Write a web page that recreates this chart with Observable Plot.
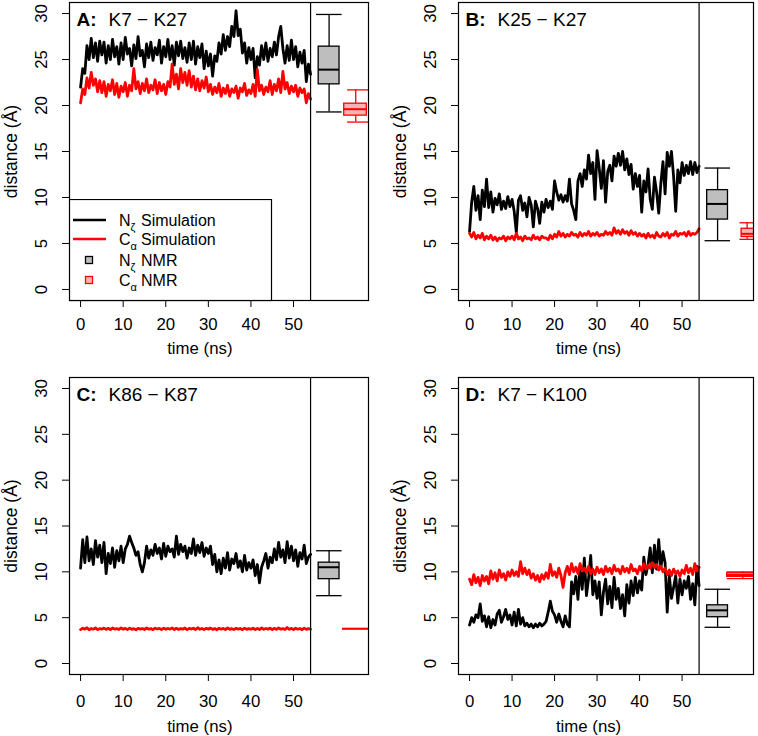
<!DOCTYPE html>
<html><head><meta charset="utf-8">
<script src="https://cdn.jsdelivr.net/npm/d3@7"></script>
<script src="https://cdn.jsdelivr.net/npm/@observablehq/plot@0.6"></script>
<style>
body{margin:0;background:#fff;}
#fig{position:relative;width:758px;height:736px;font-family:"Liberation Sans",Arial,sans-serif;}
.panel{position:absolute;width:379px;height:368px;}
</style></head><body><div id="fig"></div>
<script>
// ---------- data ----------
const time = d3.range(0, 54.25, 0.5);          // ns, sampling grid of the traces
const simEnd = 54;                              // end of simulation (separator)
const xTicks = [0, 10, 20, 30, 40, 50];
const yTicks = [0, 5, 10, 15, 20, 25, 30];
const panelLetters = ["A:", "B:", "C:", "D:"];
const panelTitles = ["K7 \u2212 K27", "K25 \u2212 K27", "K86 \u2212 K87", "K7 \u2212 K100"];
const seriesNames = ["N\u03b6 Simulation", "C\u03b1 Simulation", "N\u03b6 NMR", "C\u03b1 NMR"];

// A: K7 - K27
const nzA = [22.0,24.0,23.5,26.5,25.0,27.3,25.2,26.8,24.8,27.0,
  25.5,26.9,24.6,26.5,25.0,27.2,25.3,26.4,24.5,26.8,
  25.0,27.4,25.6,26.2,24.3,26.6,25.1,27.5,25.4,26.0,
  24.2,26.7,25.2,26.9,24.9,26.3,25.5,27.1,24.6,26.4,
  25.3,27.2,25.0,26.5,24.4,26.9,25.4,27.0,25.1,26.3,
  24.7,26.8,25.0,27.0,24.5,26.4,25.2,26.7,24.0,25.9,
  24.3,25.6,23.2,25.4,24.8,26.8,25.6,27.7,26.0,27.5,
  26.4,28.6,27.5,30.3,27.6,28.3,25.7,26.8,24.6,26.3,
  25.0,26.2,23.0,25.3,24.4,26.5,25.0,26.8,24.8,26.2,
  25.3,26.9,25.5,27.5,28.6,26.2,24.6,26.5,24.9,27.1,
  25.0,26.4,24.2,25.8,24.6,26.0,22.6,24.5,23.4];
const caA = [20.3,21.8,21.2,23.0,21.9,23.6,22.2,22.9,21.5,22.7,
  21.4,22.6,21.0,22.3,21.6,22.8,21.2,22.4,20.9,22.1,
  21.5,22.5,21.0,22.2,21.6,24.0,21.8,22.6,21.3,22.4,
  21.6,22.9,21.4,22.2,21.7,22.8,21.3,22.5,21.6,22.3,
  21.2,22.6,22.0,24.5,22.3,23.4,21.8,24.0,22.5,23.6,
  22.2,23.8,22.0,23.2,21.7,22.9,21.6,22.7,21.9,23.1,
  21.5,22.3,21.2,22.0,21.4,22.4,21.0,21.9,21.3,22.2,
  21.0,21.8,21.4,22.1,20.8,21.9,21.5,22.4,21.1,21.7,
  21.3,22.3,21.0,23.9,21.6,22.2,21.2,22.0,21.5,22.7,
  21.2,22.3,21.6,22.9,21.4,23.7,21.8,22.5,21.3,22.1,
  21.5,22.2,21.0,21.9,21.4,21.8,20.3,21.3,20.7];
// B: K25 - K27
const nzB = [6.3,9.5,11.2,8.6,10.2,7.6,10.8,9.0,12.0,8.9,
  10.6,8.4,9.9,9.2,10.4,8.7,9.6,8.8,10.1,9.0,
  9.8,8.5,6.2,9.7,10.2,8.6,9.4,7.9,10.0,9.2,
  6.8,9.6,8.8,7.2,9.5,8.4,9.8,8.9,9.6,8.7,
  11.8,10.6,9.7,10.3,9.5,10.2,9.6,12.0,9.3,8.6,
  7.6,11.8,12.6,11.2,13.0,12.0,14.6,12.6,13.8,9.8,
  15.1,13.2,11.0,14.0,9.5,12.8,13.5,11.8,14.5,13.4,
  14.8,13.5,15.0,13.0,14.2,12.5,13.6,10.9,12.6,11.2,
  12.4,8.4,11.8,10.6,13.1,9.8,8.7,12.2,10.6,8.3,
  11.5,13.9,10.4,14.9,13.4,15.0,12.3,8.5,13.0,11.6,
  13.8,12.4,13.5,12.6,13.9,12.5,13.8,12.7,13.4];
const caB = [6.1,5.7,6.2,5.5,5.9,5.6,6.1,5.4,5.8,5.5,
  5.9,5.4,5.7,5.3,5.6,5.5,5.8,5.3,5.7,5.5,
  5.8,5.4,6.1,5.5,5.7,5.3,5.8,5.5,5.6,5.4,
  5.9,5.5,5.7,5.4,5.8,5.6,5.6,5.4,5.9,5.5,
  6.0,5.7,6.3,5.8,6.1,5.7,6.0,5.8,6.2,5.9,
  6.0,5.7,6.2,5.8,6.1,5.9,6.3,5.8,6.1,5.9,
  6.2,5.8,6.0,5.9,6.3,6.0,6.2,5.9,6.7,6.1,
  6.4,6.0,6.5,6.1,6.3,5.9,6.4,6.0,6.2,5.8,
  6.1,5.8,6.0,5.6,6.1,5.7,5.9,5.6,6.2,5.8,
  5.7,6.1,5.8,6.2,5.6,6.0,5.9,6.3,5.8,6.1,
  6.0,6.2,5.8,6.3,5.9,6.1,6.0,6.2,6.6];
// C: K86 - K87
const nzC = [10.4,13.5,11.0,13.8,11.2,12.5,10.8,13.4,11.6,12.9,
  11.0,13.2,9.8,12.0,10.9,12.6,10.5,12.3,11.2,12.8,
  11.0,12.5,13.0,13.9,13.2,12.6,11.8,12.2,10.8,10.0,
  11.0,12.8,11.5,12.4,11.8,13.0,12.0,12.6,11.4,13.1,
  11.7,12.8,12.2,12.5,11.6,13.9,11.9,13.0,12.2,12.8,
  11.5,12.6,12.0,13.6,11.8,12.9,12.1,13.2,11.7,12.6,
  12.0,12.8,10.8,11.9,10.0,11.3,9.8,11.5,10.4,12.1,
  10.2,11.4,10.9,12.0,10.5,11.2,10.0,11.8,10.2,11.0,
  10.4,11.3,9.6,10.8,8.8,10.5,11.2,12.0,10.4,11.6,
  11.0,12.5,11.3,13.2,11.6,12.4,11.0,13.3,11.5,12.8,
  11.2,12.4,10.6,12.1,11.4,12.9,10.9,11.6,11.9];
const caC = [3.70,3.85,3.75,3.90,3.68,3.82,3.74,3.88,3.70,3.80,
  3.76,3.86,3.72,3.84,3.69,3.87,3.75,3.81,3.71,3.89,
  3.74,3.83,3.70,3.86,3.73,3.80,3.68,3.84,3.75,3.82,
  3.71,3.87,3.74,3.81,3.69,3.85,3.76,3.83,3.70,3.86,
  3.73,3.82,3.75,3.88,3.70,3.84,3.72,3.80,3.74,3.87,
  3.69,3.83,3.76,3.85,3.71,3.90,3.73,3.82,3.70,3.84,
  3.75,3.86,3.72,3.81,3.68,3.85,3.74,3.83,3.71,3.87,
  3.73,3.80,3.70,3.84,3.75,3.82,3.69,3.86,3.72,3.81,
  3.74,3.85,3.71,3.83,3.70,3.88,3.73,3.82,3.75,3.86,
  3.69,3.84,3.72,3.87,3.74,3.81,3.70,3.92,3.73,3.83,
  3.71,3.85,3.74,3.82,3.69,3.86,3.72,3.80,3.75];
// D: K7 - K100
const nzD = [4.2,5.0,4.5,5.3,5.0,6.5,4.6,5.2,4.0,5.1,
  3.9,4.8,4.2,5.4,5.8,4.5,5.1,5.9,4.8,5.3,
  4.2,5.6,4.1,5.9,4.3,5.0,4.1,4.4,4.0,4.3,
  3.9,4.3,4.0,4.4,4.1,4.3,4.6,5.6,6.8,5.7,
  5.3,4.5,5.4,4.6,4.0,5.2,4.3,4.0,8.9,7.6,
  9.5,7.0,10.6,8.1,11.5,7.4,9.3,11.8,7.5,9.0,
  7.1,8.9,5.3,7.8,9.2,6.5,8.4,6.1,9.4,7.0,
  8.2,6.0,7.5,5.2,8.6,6.6,9.0,7.4,9.4,7.7,
  9.0,8.0,11.6,9.7,10.8,12.6,9.9,12.9,10.3,13.5,
  10.4,12.2,11.0,5.6,9.6,7.1,8.3,9.6,6.6,9.2,
  7.5,9.0,8.2,9.5,7.0,8.7,6.4,10.6,8.5];
const caD = [9.2,8.6,9.7,8.8,9.4,8.5,9.6,9.0,9.5,8.7,
  10.1,9.2,9.9,9.0,10.2,9.4,9.8,9.1,10.0,9.5,
  10.2,9.6,10.0,9.5,11.1,9.8,10.4,9.7,10.2,9.3,
  9.8,9.1,9.6,8.9,9.7,9.2,9.9,9.3,10.8,9.6,
  10.0,9.4,10.4,9.6,8.3,9.9,10.6,9.7,10.9,10.0,
  10.5,9.8,10.9,10.1,10.4,9.9,10.6,9.8,10.3,9.7,
  10.5,9.9,10.3,9.7,10.6,10.0,10.4,9.8,10.7,10.1,
  10.3,9.8,10.6,10.0,10.4,9.9,10.8,10.1,10.3,9.8,
  10.6,10.1,10.9,10.3,10.7,10.4,11.0,10.5,10.8,10.2,
  10.6,10.0,10.4,9.7,10.2,9.6,10.3,9.8,10.1,9.5,
  10.2,9.8,10.7,9.9,10.4,9.7,10.9,10.1,10.5];

// NMR box statistics: [lower whisker, Q1, median, Q3, upper whisker]
const nmrNzA = [19.3, 22.3, 23.9, 26.4, 29.9];
const nmrCaA = [18.2, 18.9, 19.6, 20.2, 21.7];
const nmrNzB = [5.3, 7.6, 9.3, 10.8, 13.2];
const nmrCaB = [5.45, 5.7, 6.05, 6.6, 7.25];
const nmrNzC = [7.4, 9.2, 10.5, 11.0, 12.3];
const nmrCaC = [3.8, 3.8, 3.8, 3.8, 3.8];
const nmrNzD = [3.95, 5.05, 5.8, 6.35, 8.1];
const nmrCaD = [9.25, 9.45, 9.65, 9.85, 10.0];

// ---------- layout ----------
const FONT = "Liberation Sans, Arial, Helvetica, sans-serif";
const FS = 16.8;
const panels = [
  {nz: nzA, ca: caA, nmrNz: nmrNzA, nmrCa: nmrCaA, left: 0,   top: 0,   ml: 69, mr: 11, mt: 2, mb: 68, xmax: 67.6, red: {c: 64.6, b: [61.9, 67.2], k: [62.7, 68.5]}, tp: 11, xl: 48},
  {nz: nzB, ca: caB, nmrNz: nmrNzB, nmrCa: nmrCaB, left: 379, top: 0,   ml: 79, mr: 5,  mt: 2, mb: 68, xmax: 66.8, red: {c: 65.3, b: [64.0, 68.5], k: [63.6, 68.5]}, tp: 11, xl: 48},
  {nz: nzC, ca: caC, nmrNz: nmrNzC, nmrCa: nmrCaC, left: 0,   top: 368, ml: 69, mr: 11, mt: 9, mb: 62, xmax: 67.6, red: {c: 64.6, b: [61.5, 68.5], k: [61.5, 68.5]}, tp: 14, xl: 52},
  {nz: nzD, ca: caD, nmrNz: nmrNzD, nmrCa: nmrCaD, left: 379, top: 368, ml: 79, mr: 5,  mt: 9, mb: 62, xmax: 66.8, red: {c: 64.3, b: [60.6, 68.5], k: [60.6, 68.5]}, tp: 14, xl: 52}
];

function boxMarks(boxes) {
  const o = {clip: true};
  return [
    Plot.ruleX(boxes, {...o, x: "c", y1: "lo", y2: "q1", stroke: "stroke", strokeWidth: 1.3}),
    Plot.ruleX(boxes, {...o, x: "c", y1: "q3", y2: "hi", stroke: "stroke", strokeWidth: 1.3}),
    Plot.ruleY(boxes, {...o, y: "lo", x1: "k1", x2: "k2", stroke: "stroke", strokeWidth: 1.3}),
    Plot.ruleY(boxes, {...o, y: "hi", x1: "k1", x2: "k2", stroke: "stroke", strokeWidth: 1.3}),
    Plot.rect(boxes, {...o, x1: "b1", x2: "b2", y1: "q1", y2: "q3", fill: "fill", stroke: "stroke", strokeWidth: 1.3}),
    Plot.ruleY(boxes, {...o, y: "med", x1: "b1", x2: "b2", stroke: "stroke", strokeWidth: 2})
  ];
}

const fig = document.getElementById("fig");
panels.forEach((p, i) => {
  const nz = time.map((t, j) => ({t, v: p.nz[j]}));
  const ca = time.map((t, j) => ({t, v: p.ca[j]}));
  const toBox = (s, geo, fill, stroke) => ({lo: s[0], q1: s[1], med: s[2], q3: s[3], hi: s[4], c: geo.c, b1: geo.b[0], b2: geo.b[1], k1: geo.k[0], k2: geo.k[1], fill, stroke});
  const boxes = [
    toBox(p.nmrNz, {c: 58.35, b: [55.9, 60.8], k: [55.4, 61.4]}, "#bebebe", "#000"),
    toBox(p.nmrCa, p.red, "#f7b3b3", "#ff0000")
  ];
  const chart = Plot.plot({
    width: 379, height: 368,
    marginLeft: p.ml, marginRight: p.mr, marginTop: p.mt, marginBottom: p.mb,
    x: {domain: [-2.6, p.xmax]},
    y: {domain: [-1.2, 31.2]},
    style: {fontFamily: FONT, fontSize: FS + "px", color: "#000", background: "transparent", overflow: "visible"},
    marks: [
      Plot.axisX({ticks: xTicks, tickSize: 7, tickPadding: p.tp, label: null, stroke: "#000", fontSize: FS}),
      Plot.axisY({ticks: yTicks, tickSize: 7, tickPadding: 16, tickRotate: -90, label: null, stroke: "#000", fontSize: FS}),
      Plot.line(nz, {x: "t", y: "v", stroke: "#000", strokeWidth: 2.8}),
      Plot.line(ca, {x: "t", y: "v", stroke: "#ff0000", strokeWidth: 2.8}),
      ...boxMarks(boxes),
      Plot.ruleX([simEnd], {stroke: "#000", strokeWidth: 1.2}),
      Plot.frame({stroke: "#000", strokeWidth: 1.2}),
      Plot.text([panelLetters[i]], {text: d => d, frameAnchor: "top-left", dx: 7, dy: 23, lineAnchor: "bottom", textAnchor: "start", fontWeight: "bold", fontSize: 19}),
      Plot.text([panelTitles[i]], {text: d => d, frameAnchor: "top-left", dx: 39, dy: 23, lineAnchor: "bottom", textAnchor: "start", fontSize: 19}),
      Plot.text(["distance (\u00c5)"], {text: d => d, frameAnchor: "left", dx: -58, rotate: -90, lineAnchor: "middle", textAnchor: "middle", fontSize: 17.5}),
      Plot.text(["time (ns)"], {text: d => d, x: () => 28, frameAnchor: "bottom", dy: p.xl, lineAnchor: "middle", textAnchor: "middle", fontSize: FS})
    ]
  });
  const div = document.createElement("div");
  div.className = "panel";
  div.style.left = p.left + "px";
  div.style.top = p.top + "px";
  div.appendChild(chart);
  fig.appendChild(div);
});

// ---------- legend (panel A, bottom-left) ----------
const leg = d3.create("svg").attr("width", 204).attr("height", 103)
  .style("position", "absolute").style("left", "69px").style("top", "199px")
  .style("font-family", FONT).style("font-size", "16px");
leg.append("rect").attr("x", 0.5).attr("y", 0.5).attr("width", 202).attr("height", 101)
  .attr("fill", "#fff").attr("stroke", "#000").attr("stroke-width", 1.2);
const legItems = [
  {kind: "line", color: "#000", fill: null, y: 21},
  {kind: "line", color: "#ff0000", fill: null, y: 40},
  {kind: "box", color: "#000", fill: "#bebebe", y: 61},
  {kind: "box", color: "#ff0000", fill: "#f7b3b3", y: 81}
];
legItems.forEach((it, j) => {
  if (it.kind === "line") {
    leg.append("line").attr("x1", 4).attr("x2", 37).attr("y1", it.y).attr("y2", it.y)
      .attr("stroke", it.color).attr("stroke-width", 2.5);
  } else {
    leg.append("rect").attr("x", 16.5).attr("y", it.y - 3.5).attr("width", 7).attr("height", 7)
      .attr("fill", it.fill).attr("stroke", it.color).attr("stroke-width", 1.3);
  }
  const name = seriesNames[j];
  const t = leg.append("text").attr("x", 50).attr("y", it.y + 6).attr("fill", "#000");
  t.append("tspan").text(name[0]);
  t.append("tspan").attr("dy", 5).attr("font-size", 11).text(name[1]);
  t.append("tspan").attr("x", 72).attr("dy", -5).text(name.slice(3));
});
fig.appendChild(leg.node());
</script>
</body></html>
